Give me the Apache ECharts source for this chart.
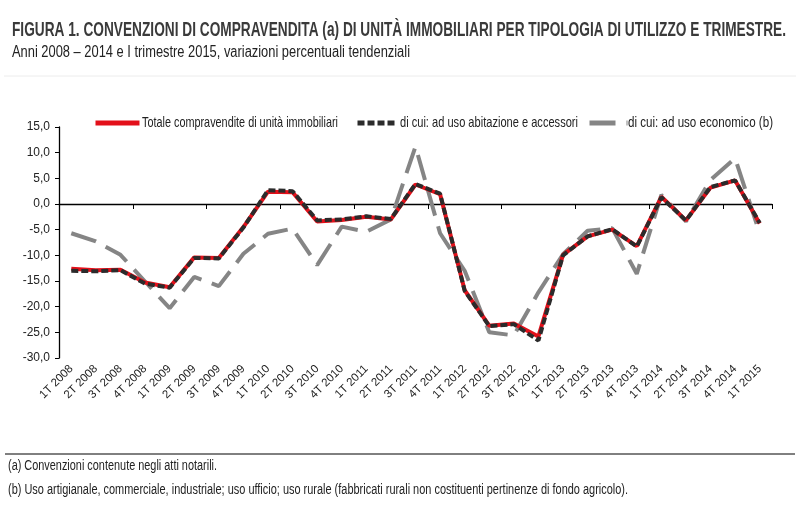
<!DOCTYPE html>
<html>
<head>
<meta charset="utf-8">
<script src="https://cdn.jsdelivr.net/npm/echarts@6/dist/echarts.min.js"></script>
<style>
html,body{margin:0;padding:0;background:#fff;}
#chart{width:800px;height:521px;}
</style>
</head>
<body>
<div id="chart"></div>
<script>
var categories = ['1T 2008','2T 2008','3T 2008','4T 2008','1T 2009','2T 2009','3T 2009','4T 2009','1T 2010','2T 2010','3T 2010','4T 2010','1T 2011','2T 2011','3T 2011','4T 2011','1T 2012','2T 2012','3T 2012','4T 2012','1T 2013','2T 2013','3T 2013','4T 2013','1T 2014','2T 2014','3T 2014','4T 2014','1T 2015'];
var totale = [-12.6,-12.9,-12.8,-15.3,-16.2,-10.4,-10.5,-4.5,2.4,2.3,-3.4,-3.1,-2.5,-3.0,3.8,1.9,-16.8,-23.7,-23.3,-25.8,-9.9,-6.3,-5.0,-8.2,1.4,-3.2,3.2,4.6,-3.8];
var abitazione = [-13.0,-13.1,-12.9,-15.5,-16.3,-10.5,-10.6,-4.6,2.7,2.5,-3.2,-3.0,-2.4,-2.9,3.9,2.0,-16.9,-23.8,-23.4,-26.6,-10.0,-6.3,-4.9,-8.3,1.3,-3.2,3.3,4.6,-3.7];
var economico = [-5.7,-7.3,-9.9,-15.1,-20.3,-14.2,-16.0,-9.7,-5.8,-4.8,-11.9,-4.4,-5.4,-3.0,11.2,-5.7,-13.0,-25.0,-25.6,-17.2,-9.8,-5.2,-4.7,-13.6,1.8,-3.4,4.7,8.9,-5.7];
var seriesNames = ['Totale compravendite di unità immobiliari','di cui: ad uso abitazione e accessori','di cui: ad uso economico (b)'];
var titleText = 'FIGURA 1. CONVENZIONI DI COMPRAVENDITA (a) DI UNITÀ IMMOBILIARI PER TIPOLOGIA DI UTILIZZO E TRIMESTRE.';
var subtitleText = 'Anni 2008 – 2014 e I trimestre 2015, variazioni percentuali tendenziali';
var noteA = '(a) Convenzioni contenute negli atti notarili.';
var noteB = '(b) Uso artigianale, commerciale, industriale; uso ufficio; uso rurale (fabbricati rurali non costituenti pertinenze di fondo agricolo).';

var FAM = "'Liberation Sans', Arial, sans-serif";
var measureCtx = document.createElement('canvas').getContext('2d');
function textW(txt, size, weight) {
  measureCtx.font = (weight || 'normal') + ' ' + size + 'px ' + FAM;
  return measureCtx.measureText(txt).width;
}
// narrow-looking text: scaled horizontally to the width it takes in the reference
function narrowText(txt, x, y, size, width, weight, color) {
  return {
    type: 'text', x: x, y: y, scaleX: width / textW(txt, size, weight), silent: true,
    style: {text: txt, fontFamily: FAM, fontSize: size, fontWeight: weight || 'normal',
      fill: color || '#222', verticalAlign: 'middle', align: 'left'}
  };
}

var chart = echarts.init(document.getElementById('chart'));
var noText = {fontSize: 1, color: 'rgba(0,0,0,0)'};
function legendAt(name, left, w) {
  return {data: [name], left: left, top: 115, padding: 5, itemWidth: w, itemHeight: 6,
    formatter: function(){return '';}, textStyle: noText, selectedMode: false,
    itemStyle: {opacity: 0}, lineStyle: {width: 5}};
}
var option = {
  animation: false,
  backgroundColor: '#fff',
  legend: [
    legendAt(seriesNames[0], 88, 44),
    legendAt(seriesNames[1], 350, 40),
    legendAt(seriesNames[2], 582, 38)
  ],
  grid: {left: 59, right: 28, top: 127, bottom: 163, containLabel: false},
  xAxis: [
    {
      type: 'category', data: categories, position: 'bottom',
      axisLine: {show: false, onZero: false}, axisTick: {show: false},
      axisLabel: {interval: 0, rotate: 45, margin: 9, fontFamily: FAM, fontSize: 11.5, color: '#222'}
    },
    {
      type: 'category', data: categories, position: 'top',
      axisLine: {show: true, onZero: true, lineStyle: {color: '#000', width: 1.3}},
      axisTick: {show: true, inside: true, length: 5, lineStyle: {color: '#000'}},
      axisLabel: {show: false}
    }
  ],
  yAxis: {
    type: 'value', min: -30, max: 15, interval: 5,
    axisLine: {show: true, lineStyle: {color: '#000', width: 1.3}},
    axisTick: {show: true, length: 4, lineStyle: {color: '#000'}},
    splitLine: {show: false},
    axisLabel: {fontFamily: FAM, fontSize: 12, color: '#222', margin: 9,
      formatter: function (v) { return v.toFixed(1).replace('.', ','); }}
  },
  series: [
    {name: seriesNames[0], type: 'line', data: totale, symbol: 'none', xAxisIndex: 0,
      lineStyle: {color: '#e3101a', width: 4}, itemStyle: {color: '#e3101a'}, z: 3},
    {name: seriesNames[1], type: 'line', data: abitazione, symbol: 'none', xAxisIndex: 0,
      lineStyle: {color: '#2b2b2b', width: 4, type: [7, 3]}, itemStyle: {color: '#2b2b2b'}, z: 4},
    {name: seriesNames[2], type: 'line', data: economico, symbol: 'none', xAxisIndex: 0,
      lineStyle: {color: '#858585', width: 4, type: [26, 11]}, itemStyle: {color: '#858585'}, z: 2}
  ],
  graphic: [
    narrowText(titleText, 12, 30, 20, 774, 'bold', '#3a3a3a'),
    narrowText(subtitleText, 12, 53, 16, 398, 'normal', '#222'),
    {type: 'line', silent: true, shape: {x1: 4, y1: 76, x2: 796, y2: 76}, style: {stroke: '#ececec', lineWidth: 1}},
    narrowText(seriesNames[0], 142, 123, 14.5, 196, 'normal', '#222'),
    narrowText(seriesNames[1], 400, 123, 14.5, 178, 'normal', '#222'),
    narrowText(seriesNames[2], 628, 123, 14.5, 145, 'normal', '#222'),
    {type: 'line', silent: true, shape: {x1: 5, y1: 454, x2: 795, y2: 454}, style: {stroke: '#000', lineWidth: 1}},
    narrowText(noteA, 8, 466, 14, 209, 'normal', '#222'),
    narrowText(noteB, 8, 490, 14, 620, 'normal', '#222')
  ]
};
chart.setOption(option);
</script>
</body>
</html>
